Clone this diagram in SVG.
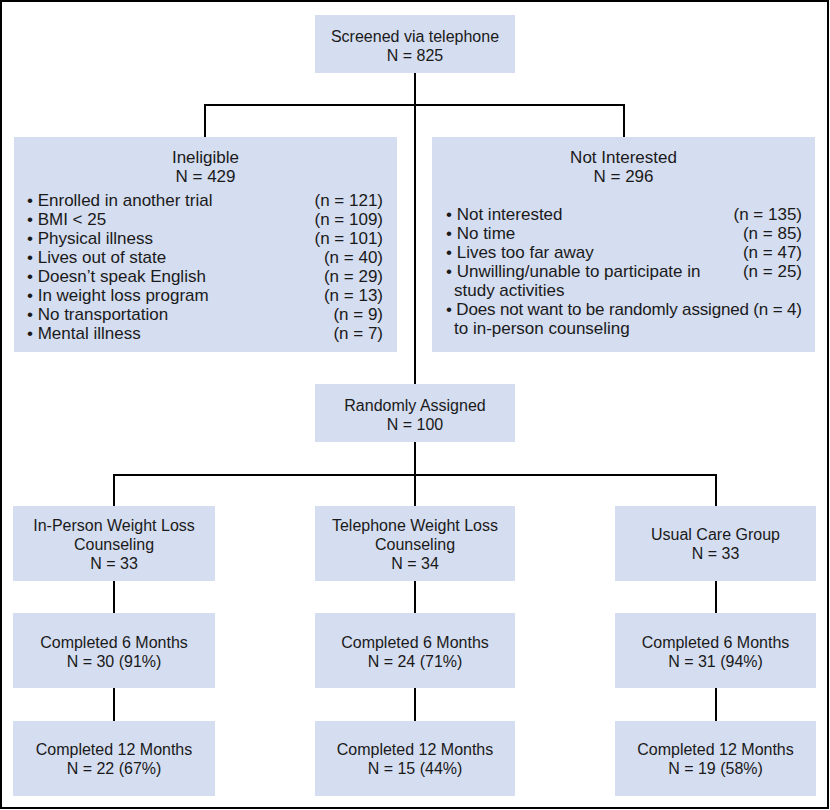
<svg xmlns="http://www.w3.org/2000/svg" width="830" height="810" viewBox="0 0 830 810">
<style>
.box{fill:#d5ddf0}
.t{font-family:"Liberation Sans",Arial,sans-serif;font-size:16px;fill:#1a1a1a;text-anchor:middle}
.l{font-family:"Liberation Sans",Arial,sans-serif;font-size:17px;fill:#1a1a1a}
.h{font-family:"Liberation Sans",Arial,sans-serif;font-size:17px;fill:#1a1a1a;text-anchor:middle}
.r{text-anchor:end}
.c{fill:none;stroke:#000;stroke-width:2}
</style>
<rect x="1" y="1" width="827" height="807" fill="#fff" stroke="#000" stroke-width="2"/>
<g id="connectors" class="c">
<path d="M415 73 V384"/>
<path d="M205 137 V105 H624 V137"/>
<path d="M415 442 V506"/>
<path d="M114 506 V475 H716 V506"/>
<path d="M114 581 V613 M114 688 V721"/>
<path d="M415 581 V613 M415 688 V721"/>
<path d="M716 581 V613 M716 688 V721"/>
</g>
<g id="screened">
<rect class="box" x="315" y="15" width="200" height="58"/>
<text class="t" x="415" y="42">Screened via telephone</text>
<text class="t" x="415" y="61">N = 825</text>
</g>
<g id="ineligible">
<rect class="box" x="14" y="137" width="383" height="215"/>
<text class="h" x="205.5" y="163">Ineligible</text>
<text class="h" x="205.5" y="182">N = 429</text>
<g class="l">
<text x="27" y="206">• Enrolled in another trial</text>
<text x="27" y="225">• BMI &lt; 25</text>
<text x="27" y="244">• Physical illness</text>
<text x="27" y="263">• Lives out of state</text>
<text x="27" y="282">• Doesn’t speak English</text>
<text x="27" y="301">• In weight loss program</text>
<text x="27" y="320">• No transportation</text>
<text x="27" y="339">• Mental illness</text>
</g>
<g class="l r">
<text x="383" y="206">(n = 121)</text>
<text x="383" y="225">(n = 109)</text>
<text x="383" y="244">(n = 101)</text>
<text x="383" y="263">(n = 40)</text>
<text x="383" y="282">(n = 29)</text>
<text x="383" y="301">(n = 13)</text>
<text x="383" y="320">(n = 9)</text>
<text x="383" y="339">(n = 7)</text>
</g>
</g>
<g id="notinterested">
<rect class="box" x="432" y="137" width="383" height="215"/>
<text class="h" x="623.5" y="163">Not Interested</text>
<text class="h" x="623.5" y="182">N = 296</text>
<g class="l">
<text x="446" y="220">• Not interested</text>
<text x="446" y="239">• No time</text>
<text x="446" y="258">• Lives too far away</text>
<text x="446" y="277">• Unwilling/unable to participate in</text>
<text x="454" y="296">study activities</text>
<text x="446" y="315" textLength="356" lengthAdjust="spacing">• Does not want to be randomly assigned (n = 4)</text>
<text x="454" y="334">to in-person counseling</text>
</g>
<g class="l r">
<text x="802" y="220">(n = 135)</text>
<text x="802" y="239">(n = 85)</text>
<text x="802" y="258">(n = 47)</text>
<text x="802" y="277">(n = 25)</text>
</g>
</g>
<g id="randomized">
<rect class="box" x="315" y="384" width="200" height="58"/>
<text class="t" x="415" y="411">Randomly Assigned</text>
<text class="t" x="415" y="430">N = 100</text>
</g>
<g id="inperson">
<rect class="box" x="13" y="506" width="202" height="75"/>
<text class="t" x="114" y="531">In-Person Weight Loss</text>
<text class="t" x="114" y="550">Counseling</text>
<text class="t" x="114" y="569">N = 33</text>
</g>
<g id="telephone">
<rect class="box" x="315" y="506" width="200" height="75"/>
<text class="t" x="415" y="531">Telephone Weight Loss</text>
<text class="t" x="415" y="550">Counseling</text>
<text class="t" x="415" y="569">N = 34</text>
</g>
<g id="usualcare">
<rect class="box" x="615" y="506" width="201" height="75"/>
<text class="t" x="715.5" y="540">Usual Care Group</text>
<text class="t" x="715.5" y="559">N = 33</text>
</g>
<g id="inperson6">
<rect class="box" x="13" y="613" width="202" height="75"/>
<text class="t" x="114" y="648">Completed 6 Months</text>
<text class="t" x="114" y="667">N = 30 (91%)</text>
</g>
<g id="telephone6">
<rect class="box" x="315" y="613" width="200" height="75"/>
<text class="t" x="415" y="648">Completed 6 Months</text>
<text class="t" x="415" y="667">N = 24 (71%)</text>
</g>
<g id="usualcare6">
<rect class="box" x="615" y="613" width="201" height="75"/>
<text class="t" x="715.5" y="648">Completed 6 Months</text>
<text class="t" x="715.5" y="667">N = 31 (94%)</text>
</g>
<g id="inperson12">
<rect class="box" x="13" y="721" width="202" height="75"/>
<text class="t" x="114" y="755">Completed 12 Months</text>
<text class="t" x="114" y="774">N = 22 (67%)</text>
</g>
<g id="telephone12">
<rect class="box" x="315" y="721" width="200" height="75"/>
<text class="t" x="415" y="755">Completed 12 Months</text>
<text class="t" x="415" y="774">N = 15 (44%)</text>
</g>
<g id="usualcare12">
<rect class="box" x="615" y="721" width="201" height="75"/>
<text class="t" x="715.5" y="755">Completed 12 Months</text>
<text class="t" x="715.5" y="774">N = 19 (58%)</text>
</g>
</svg>
